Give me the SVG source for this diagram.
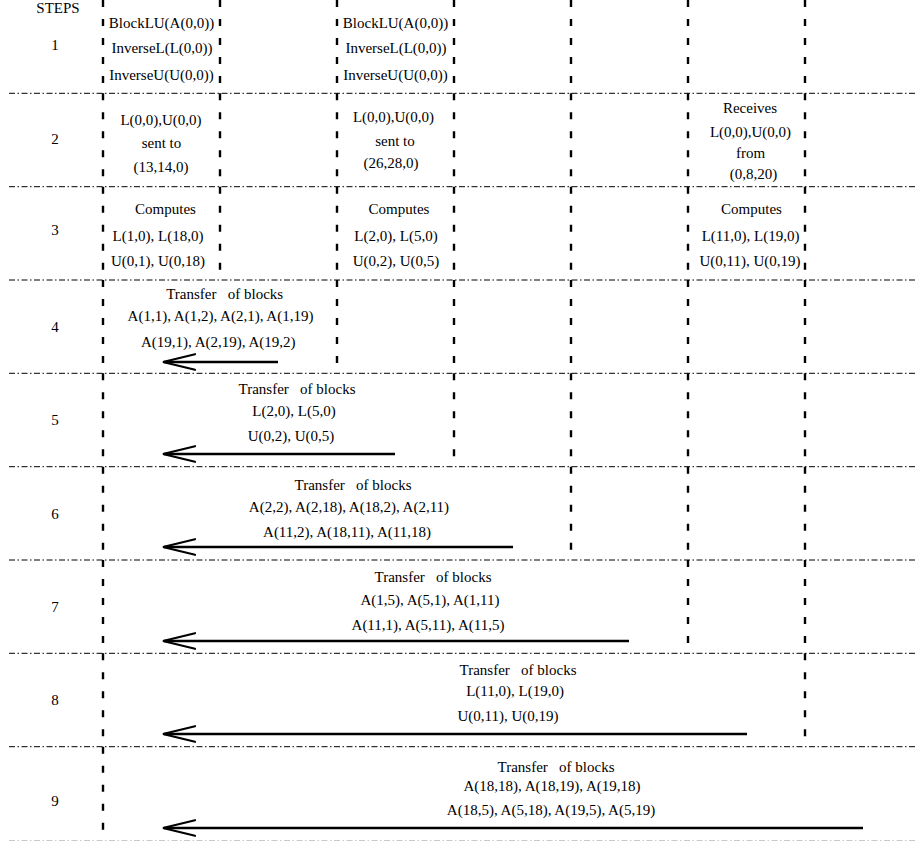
<svg xmlns="http://www.w3.org/2000/svg" width="917" height="842" viewBox="0 0 917 842">
<style>
text{font-family:"Liberation Serif","Times New Roman",serif;font-size:15px;fill:#000;text-anchor:middle;white-space:pre}
.row{stroke:#000;stroke-width:1;stroke-dasharray:6 2.5 1.5 2.5;fill:none}
.row.last{stroke:#c8c8c8}
.col{stroke:#000;stroke-width:2.4;stroke-dasharray:7 12;fill:none}
.arr{stroke:#000;stroke-width:2.6;fill:none}
.head{stroke:#000;stroke-width:2.2;fill:none;stroke-linecap:round}
</style>
<rect width="917" height="842" fill="#fff"/>
<g id="grid">
<path class="row" d="M9 93.3H917M9 186.7H917M9 280H917M9 373.3H917M9 466.7H917M9 560H917M9 653.3H917M9 746.7H917"/>
<path class="row last" d="M9 840.5H917"/>
<path class="col" d="M103 0V93.3M103 93.3V186.7M103 186.7V280M103 280V373.3M103 373.3V466.7M103 466.7V560M103 560V653.3M103 653.3V746.7M103 746.7V833"/>
<path class="col" d="M220 0V93.3M220 93.3V186.7M220 186.7V280"/>
<path class="col" d="M337 0V93.3M337 93.3V186.7M337 186.7V280M337 280V373.3"/>
<path class="col" d="M454 0V93.3M454 93.3V186.7M454 186.7V280M454 280V373.3M454 373.3V466.7"/>
<path class="col" d="M571 0V93.3M571 93.3V186.7M571 186.7V280M571 280V373.3M571 373.3V466.7M571 466.7V560"/>
<path class="col" d="M688 0V93.3M688 93.3V186.7M688 186.7V280M688 280V373.3M688 373.3V466.7M688 466.7V560M688 560V653.3"/>
<path class="col" d="M805 0V93.3M805 93.3V186.7M805 186.7V280M805 280V373.3M805 373.3V466.7M805 466.7V560M805 560V653.3M805 653.3V746.7"/>
</g>
<g id="steps">
<text x="58" y="13">STEPS</text>
<text x="55" y="50">1</text>
<text x="55" y="143.5">2</text>
<text x="55" y="235">3</text>
<text x="55" y="331.5">4</text>
<text x="55" y="425">5</text>
<text x="55" y="518.5">6</text>
<text x="55" y="612">7</text>
<text x="55" y="705">8</text>
<text x="55" y="806">9</text>
</g>
<g id="step1-p1">
<text x="161.5" y="28">BlockLU(A(0,0))</text>
<text x="162" y="53">InverseL(L(0,0))</text>
<text x="161.5" y="80">InverseU(U(0,0))</text>
</g>
<g id="step1-p3">
<text x="395.5" y="28">BlockLU(A(0,0))</text>
<text x="396" y="53">InverseL(L(0,0))</text>
<text x="395.5" y="80">InverseU(U(0,0))</text>
</g>
<g id="step2-p1">
<text x="161" y="125">L(0,0),U(0,0)</text>
<text x="161.5" y="148">sent to</text>
<text x="161" y="172">(13,14,0)</text>
</g>
<g id="step2-p3">
<text x="393.5" y="122">L(0,0),U(0,0)</text>
<text x="395" y="146">sent to</text>
<text x="391" y="168">(26,28,0)</text>
</g>
<g id="step2-p6">
<text x="750" y="113">Receives</text>
<text x="750.5" y="137">L(0,0),U(0,0)</text>
<text x="750.5" y="158">from</text>
<text x="753.5" y="179">(0,8,20)</text>
</g>
<g id="step3-p1">
<text x="165.5" y="214">Computes</text>
<text x="158" y="241">L(1,0), L(18,0)</text>
<text x="158" y="266">U(0,1), U(0,18)</text>
</g>
<g id="step3-p3">
<text x="399" y="214">Computes</text>
<text x="396" y="241">L(2,0), L(5,0)</text>
<text x="396" y="266">U(0,2), U(0,5)</text>
</g>
<g id="step3-p6">
<text x="751.5" y="214">Computes</text>
<text x="750.5" y="241">L(11,0), L(19,0)</text>
<text x="750" y="266">U(0,11), U(0,19)</text>
</g>
<g id="step4">
<text x="224.7" y="299">Transfer   of blocks</text>
<text x="220.5" y="321">A(1,1), A(1,2), A(2,1), A(1,19)</text>
<text x="218.3" y="347">A(19,1), A(2,19), A(19,2)</text>
</g>
<g id="step5">
<text x="297" y="394">Transfer   of blocks</text>
<text x="294" y="416">L(2,0), L(5,0)</text>
<text x="291" y="441">U(0,2), U(0,5)</text>
</g>
<g id="step6">
<text x="353" y="490">Transfer   of blocks</text>
<text x="349" y="511.5">A(2,2), A(2,18), A(18,2), A(2,11)</text>
<text x="347" y="536.5">A(11,2), A(18,11), A(11,18)</text>
</g>
<g id="step7">
<text x="433" y="582">Transfer   of blocks</text>
<text x="430" y="605">A(1,5), A(5,1), A(1,11)</text>
<text x="428" y="630">A(11,1), A(5,11), A(11,5)</text>
</g>
<g id="step8">
<text x="518" y="675">Transfer   of blocks</text>
<text x="515" y="696">L(11,0), L(19,0)</text>
<text x="508" y="721">U(0,11), U(0,19)</text>
</g>
<g id="step9">
<text x="556" y="771.5">Transfer   of blocks</text>
<text x="552" y="790.5">A(18,18), A(18,19), A(19,18)</text>
<text x="551" y="815">A(18,5), A(5,18), A(19,5), A(5,19)</text>
</g>
<g id="connectors">
<path class="arr" d="M164 362H278"/>
<path class="head" d="M195 354.2L163 362L195 369.8"/>
<path class="arr" d="M164 454H395"/>
<path class="head" d="M195 446.2L163 454L195 461.8"/>
<path class="arr" d="M164 547H513"/>
<path class="head" d="M195 539.2L163 547L195 554.8"/>
<path class="arr" d="M164 641H629"/>
<path class="head" d="M195 633.2L163 641L195 648.8"/>
<path class="arr" d="M164 734H747"/>
<path class="head" d="M195 726.2L163 734L195 741.8"/>
<path class="arr" d="M164 828H863"/>
<path class="head" d="M195 820.2L163 828L195 835.8"/>
</g>
</svg>
